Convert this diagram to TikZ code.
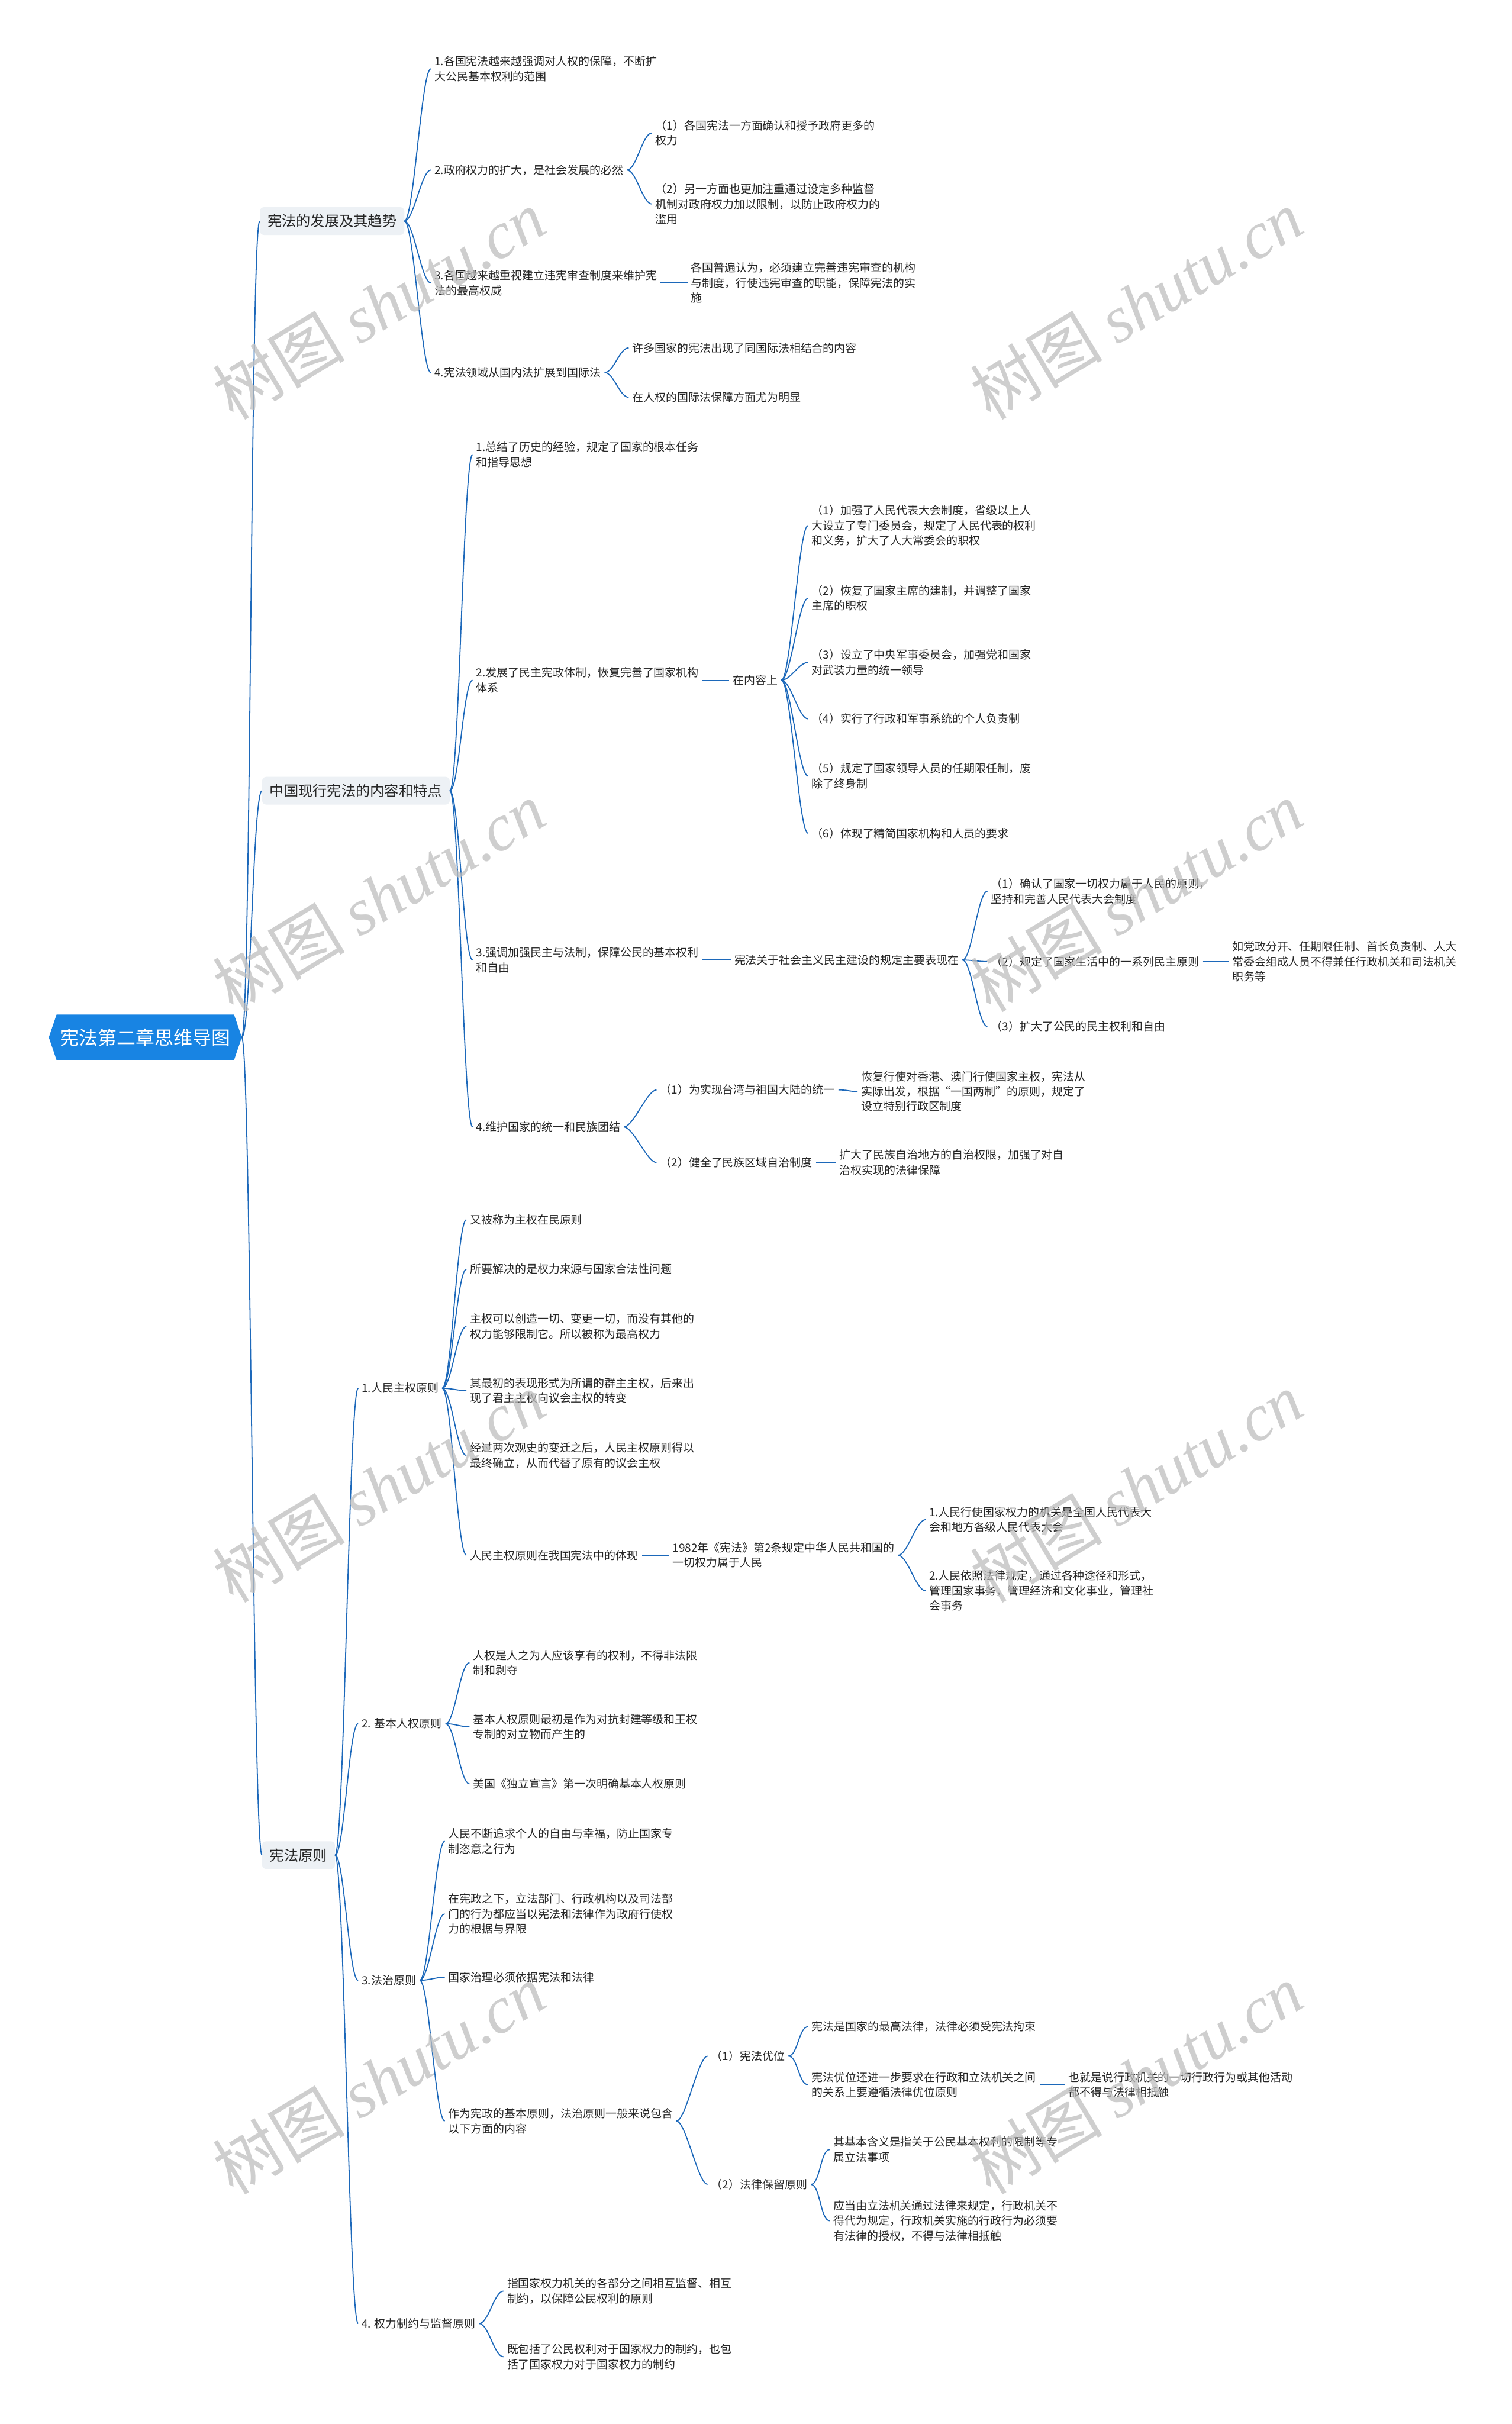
\documentclass[tikz,border=0pt]{standalone}
\usepackage{fontspec}
\setmainfont{Noto Sans CJK SC}
\newfontfamily\wmlatin{Liberation Serif}
\usetikzlibrary{calc}
\definecolor{linkblue}{RGB}{28,104,186}
\definecolor{rootblue}{RGB}{24,132,227}
\definecolor{topicgray}{RGB}{237,241,245}
\definecolor{inkgray}{RGB}{38,38,38}
\definecolor{markgray}{RGB}{190,190,190}

\begin{document}
\begin{tikzpicture}[x=2.6176pt,y=-2.6176pt,
  root/.style={text=white,font=\fontsize{32}{36}\selectfont,minimum width=326pt,minimum height=77pt,inner sep=0pt},
  topic/.style={anchor=west,fill=topicgray,rounded corners=7pt,text=inkgray,
    font=\fontsize{24.3}{28}\selectfont,minimum height=47pt,inner xsep=13pt},
  leaf/.style={anchor=west,align=left,text=inkgray,font=\fontsize{19}{25.5}\selectfont,
    inner xsep=6pt,inner ysep=2pt,xshift=-6pt},
  link/.style={draw=linkblue,line width=1.8pt},
  wmark/.style={text=markgray,opacity=.75,rotate=31,font=\fontsize{112}{112}\selectfont}]
  \useasboundingbox (0,0) rectangle (978,1568);
  \fill[white] (0,0) rectangle (978,1568);

  \fill[rootblue] (31.6,671) -- (36.6,656.3) -- (151.4,656.3) -- (156.4,671) -- (151.4,685.7) -- (36.6,685.7) -- cycle;
  \node[root] (root) at (94,671) {宪法第二章思维导图};

  \node[topic] (a) at (168,143) {宪法的发展及其趋势};
  \node[leaf] (a1) at (281,44.5) {1.各国宪法越来越强调对人权的保障，不断扩\\大公民基本权利的范围};
  \node[leaf] (a2) at (281,110) {2.政府权力的扩大，是社会发展的必然};
  \node[leaf] (a3) at (281,183) {3.各国越来越重视建立违宪审查制度来维护宪\\法的最高权威};
  \node[leaf] (a4) at (281,241) {4.宪法领域从国内法扩展到国际法};
  \node[leaf] (a21) at (424,86) {（1）各国宪法一方面确认和授予政府更多的\\权力};
  \node[leaf] (a22) at (424,132) {（2）另一方面也更加注重通过设定多种监督\\机制对政府权力加以限制，以防止政府权力的\\滥用};
  \node[leaf] (a31) at (447,183) {各国普遍认为，必须建立完善违宪审查的机构\\与制度，行使违宪审查的职能，保障宪法的实\\施};
  \node[leaf] (a41) at (409,225) {许多国家的宪法出现了同国际法相结合的内容};
  \node[leaf] (a42) at (409,257) {在人权的国际法保障方面尤为明显};

  \node[topic] (b) at (169.5,511.5) {中国现行宪法的内容和特点};
  \node[leaf] (b1) at (308,294) {1.总结了历史的经验，规定了国家的根本任务\\和指导思想};
  \node[leaf] (b2) at (308,440) {2.发展了民主宪政体制，恢复完善了国家机构\\体系};
  \node[leaf] (b3) at (308,621) {3.强调加强民主与法制，保障公民的基本权利\\和自由};
  \node[leaf] (b4) at (308,729) {4.维护国家的统一和民族团结};
  \node[leaf] (b2c) at (474,440) {在内容上};
  \node[leaf] (b2c1) at (525,340) {（1）加强了人民代表大会制度，省级以上人\\大设立了专门委员会，规定了人民代表的权利\\和义务，扩大了人大常委会的职权};
  \node[leaf] (b2c2) at (525,387) {（2）恢复了国家主席的建制，并调整了国家\\主席的职权};
  \node[leaf] (b2c3) at (525,428.5) {（3）设立了中央军事委员会，加强党和国家\\对武装力量的统一领导};
  \node[leaf] (b2c4) at (525,465) {（4）实行了行政和军事系统的个人负责制};
  \node[leaf] (b2c5) at (525,502) {（5）规定了国家领导人员的任期限任制，废\\除了终身制};
  \node[leaf] (b2c6) at (525,539) {（6）体现了精简国家机构和人员的要求};
  \node[leaf] (b3c) at (475,621) {宪法关于社会主义民主建设的规定主要表现在};
  \node[leaf] (b3c1) at (641,576.5) {（1）确认了国家一切权力属于人民的原则，\\坚持和完善人民代表大会制度};
  \node[leaf] (b3c2) at (641,622) {（2）规定了国家生活中的一系列民主原则};
  \node[leaf] (b3c3) at (641,664) {（3）扩大了公民的民主权利和自由};
  \node[leaf] (b3c2x) at (797,622) {如党政分开、任期限任制、首长负责制、人大\\常委会组成人员不得兼任行政机关和司法机关\\职务等};
  \node[leaf] (b41) at (427,705) {（1）为实现台湾与祖国大陆的统一};
  \node[leaf] (b42) at (427,752) {（2）健全了民族区域自治制度};
  \node[leaf] (b41x) at (557,706) {恢复行使对香港、澳门行使国家主权，宪法从\\实际出发，根据“一国两制”的原则，规定了\\设立特别行政区制度};
  \node[leaf] (b42x) at (543,752) {扩大了民族自治地方的自治权限，加强了对自\\治权实现的法律保障};

  \node[topic] (c) at (169.5,1200) {宪法原则};
  \node[leaf] (c1) at (234,898) {1.人民主权原则};
  \node[leaf] (c2) at (234,1115) {2. 基本人权原则};
  \node[leaf] (c3) at (234,1281) {3.法治原则};
  \node[leaf] (c4) at (234,1503) {4. 权力制约与监督原则};
  \node[leaf] (c11) at (304,789) {又被称为主权在民原则};
  \node[leaf] (c12) at (304,821) {所要解决的是权力来源与国家合法性问题};
  \node[leaf] (c13) at (304,858) {主权可以创造一切、变更一切，而没有其他的\\权力能够限制它。所以被称为最高权力};
  \node[leaf] (c14) at (304,899.5) {其最初的表现形式为所谓的群主主权，后来出\\现了君主主权向议会主权的转变};
  \node[leaf] (c15) at (304,941.5) {经过两次观史的变迁之后，人民主权原则得以\\最终确立，从而代替了原有的议会主权};
  \node[leaf] (c16) at (304,1006) {人民主权原则在我国宪法中的体现};
  \node[leaf] (c16x) at (435,1006) {1982年《宪法》第2条规定中华人民共和国的\\一切权力属于人民};
  \node[leaf] (c16x1) at (601,983) {1.人民行使国家权力的机关是全国人民代表大\\会和地方各级人民代表大会};
  \node[leaf] (c16x2) at (601,1029) {2.人民依照法律规定，通过各种途径和形式，\\管理国家事务，管理经济和文化事业，管理社\\会事务};
  \node[leaf] (c21) at (306,1075.5) {人权是人之为人应该享有的权利，不得非法限\\制和剥夺};
  \node[leaf] (c22) at (306,1117) {基本人权原则最初是作为对抗封建等级和王权\\专制的对立物而产生的};
  \node[leaf] (c23) at (306,1154) {美国《独立宣言》第一次明确基本人权原则};
  \node[leaf] (c31) at (290,1191) {人民不断追求个人的自由与幸福，防止国家专\\制恣意之行为};
  \node[leaf] (c32) at (290,1238) {在宪政之下，立法部门、行政机构以及司法部\\门的行为都应当以宪法和法律作为政府行使权\\力的根据与界限};
  \node[leaf] (c33) at (290,1279) {国家治理必须依据宪法和法律};
  \node[leaf] (c34) at (290,1372) {作为宪政的基本原则，法治原则一般来说包含\\以下方面的内容};
  \node[leaf] (c341) at (460,1330) {（1）宪法优位};
  \node[leaf] (c342) at (460,1413) {（2）法律保留原则};
  \node[leaf] (c3411) at (525,1311) {宪法是国家的最高法律，法律必须受宪法拘束};
  \node[leaf] (c3412) at (525,1348.5) {宪法优位还进一步要求在行政和立法机关之间\\的关系上要遵循法律优位原则};
  \node[leaf] (c3412x) at (691,1348.5) {也就是说行政机关的一切行政行为或其他活动\\都不得与法律相抵触};
  \node[leaf] (c3421) at (539,1390.5) {其基本含义是指关于公民基本权利的限制等专\\属立法事项};
  \node[leaf] (c3422) at (539,1436.5) {应当由立法机关通过法律来规定，行政机关不\\得代为规定，行政机关实施的行政行为必须要\\有法律的授权，不得与法律相抵触};
  \node[leaf] (c41) at (328,1482) {指国家权力机关的各部分之间相互监督、相互\\制约，以保障公民权利的原则};
  \node[leaf] (c42) at (328,1524.5) {既包括了公民权利对于国家权力的制约，也包\\括了国家权力对于国家权力的制约};

  \foreach \p/\q in {root/a,root/b,root/c,
      a/a1,a/a2,a/a3,a/a4,a2/a21,a2/a22,a3/a31,a4/a41,a4/a42,
      b/b1,b/b2,b/b3,b/b4,b2/b2c,b2c/b2c1,b2c/b2c2,b2c/b2c3,b2c/b2c4,b2c/b2c5,b2c/b2c6,
      b3/b3c,b3c/b3c1,b3c/b3c2,b3c/b3c3,b3c2/b3c2x,b4/b41,b4/b42,b41/b41x,b42/b42x,
      c/c1,c/c2,c/c3,c/c4,c1/c11,c1/c12,c1/c13,c1/c14,c1/c15,c1/c16,c16/c16x,c16x/c16x1,c16x/c16x2,
      c2/c21,c2/c22,c2/c23,c3/c31,c3/c32,c3/c33,c3/c34,c34/c341,c34/c342,
      c341/c3411,c341/c3412,c3412/c3412x,c342/c3421,c342/c3422,c4/c41,c4/c42}
    \draw[link] (\p.east) .. controls ($(\p.east)+(6,0)$) and ($(\q.west)+(-6,0)$) .. (\q.west);

  \foreach \wx in {245,735}
    \foreach \wy in {197,580,962,1345}
      \node[wmark] (wm\wx\wy) at (\wx,\wy) {树图 {\wmlatin\itshape shutu.cn}};
\end{tikzpicture}
\end{document}
